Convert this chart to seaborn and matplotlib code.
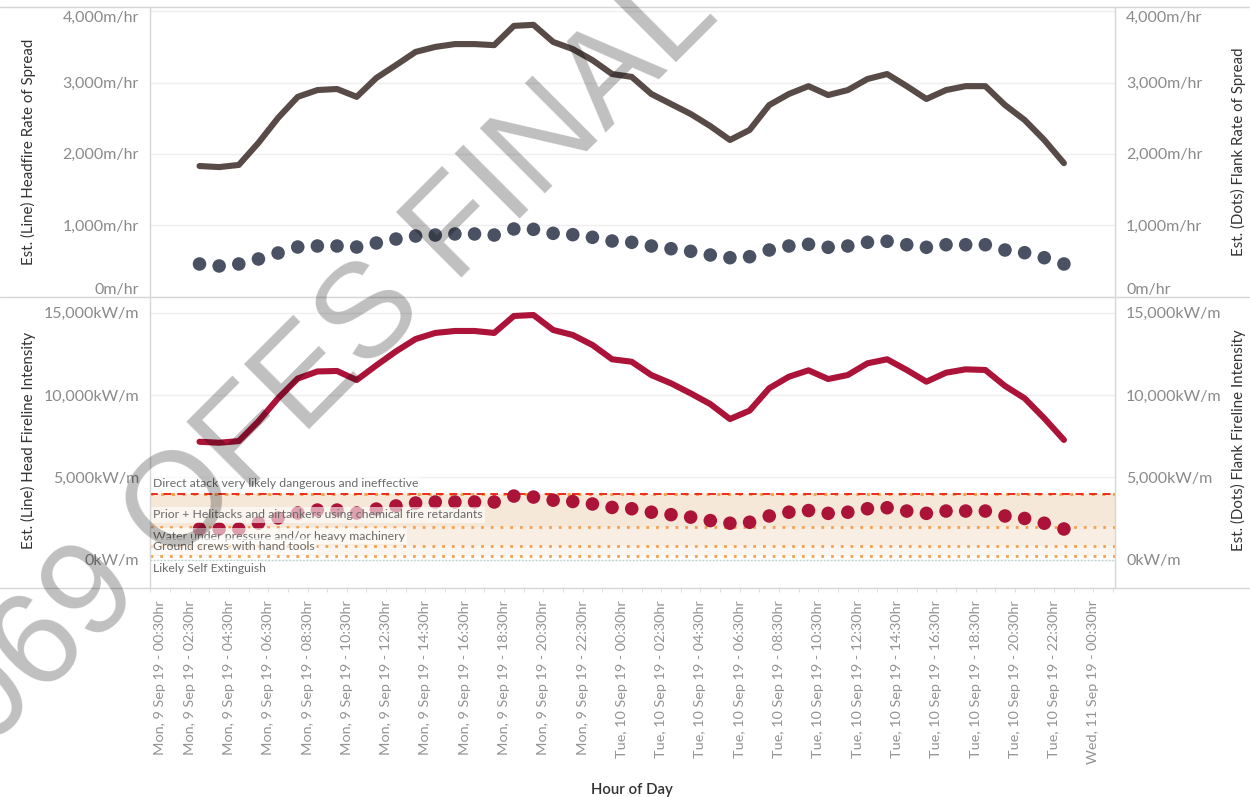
import numpy as np
import pandas as pd
import seaborn as sns
import matplotlib
matplotlib.use('Agg')
import matplotlib.pyplot as plt
from matplotlib.lines import Line2D
from matplotlib.transforms import ScaledTranslation

## hourly estimates, Mon 9 Sep 19 03:00 -> Tue 10 Sep 19 23:00 (hours from Mon 00:00)
hours = list(range(3, 48))

head_ros = [1830, 1815, 1845, 2155, 2505, 2800, 2895, 2910, 2800, 3065,
            3245, 3430, 3500, 3540, 3540, 3525, 3795, 3810, 3570, 3470,
            3315, 3120, 3080, 2840, 2700, 2560, 2390, 2195, 2335, 2685,
            2840, 2950, 2825, 2895, 3050, 3120, 2950, 2770, 2895, 2950,
            2950, 2685, 2475, 2195, 1870]
flank_ros = [456, 428, 456, 526, 610, 694, 708, 708, 694, 750,
             806, 848, 862, 877, 877, 862, 947, 942, 886, 867,
             830, 778, 760, 708, 670, 634, 582, 544, 558, 652,
             708, 732, 690, 708, 760, 774, 726, 690, 726, 726,
             726, 652, 614, 544, 456]
head_int = [7160, 7100, 7200, 8400, 9800, 11000, 11430, 11460, 10910, 11800,
            12650, 13400, 13770, 13890, 13890, 13770, 14800, 14860, 13950, 13645,
            13040, 12170, 12020, 11210, 10710, 10100, 9450, 8540, 9050, 10410,
            11110, 11500, 10970, 11215, 11925, 12170, 11520, 10810, 11355, 11560,
            11520, 10550, 9800, 8585, 7270]
flank_int = [1860, 1860, 1860, 2220, 2530, 2830, 3010, 3010, 2830, 3070,
             3260, 3440, 3500, 3500, 3500, 3500, 3860, 3800, 3610, 3530,
             3380, 3170, 3090, 2880, 2730, 2580, 2370, 2210, 2270, 2650,
             2880, 2980, 2810, 2880, 3090, 3150, 2950, 2810, 2950, 2950,
             2950, 2650, 2500, 2210, 1860]

tick_days = ['Mon, 9 Sep 19'] * 12 + ['Tue, 10 Sep 19'] * 12 + ['Wed, 11 Sep 19']
tick_times = ['00:30', '02:30', '04:30', '06:30', '08:30', '10:30',
              '12:30', '14:30', '16:30', '18:30', '20:30', '22:30'] * 2 + ['00:30']
tick_labels = ['{0} - {1}hr'.format(d, t) for d, t in zip(tick_days, tick_times)]

ros_ticks = [0, 1000, 2000, 3000, 4000]
ros_labels = ['0m/hr', '1,000m/hr', '2,000m/hr', '3,000m/hr', '4,000m/hr']
int_ticks = [0, 5000, 10000, 15000]
int_labels = ['0kW/m', '5,000kW/m', '10,000kW/m', '15,000kW/m']

# fire-fighting thresholds (kW/m) and their notes
thresh_vals = [4000, 2000, 800, 200]
thresh_notes = ['Direct atack very likely dangerous and ineffective',
                'Prior + Helitacks and airtankers using chemical fire retardants',
                'Water under pressure and/or heavy machinery',
                'Ground crews with hand tools']
low_note = 'Likely Self Extinguish'

df = pd.DataFrame({'hour': hours, 'head_ros': head_ros, 'flank_ros': flank_ros,
                   'head_int': head_int, 'flank_int': flank_int})

################################################
sns.set_theme(style='white')
plt.rcParams['font.family'] = ['Lato', 'DejaVu Sans']

W, H = 1250, 797
fig = plt.figure(figsize=(12.5, 7.97), dpi=100)
L, R = 150 / W, 1115 / W
ax1 = fig.add_axes([L, 1 - 297 / H, R - L, (297 - 7) / H])
ax2 = fig.add_axes([L, 1 - 588 / H, R - L, (588 - 297) / H], sharex=ax1)

grey_txt = '#8a8a8a'
dark_txt = '#333333'

## top pane: rate of spread
sns.lineplot(data=df, x='hour', y='head_ros', ax=ax1, color='#584b47', lw=4.4,
             solid_capstyle='round', solid_joinstyle='round', zorder=3)
sns.scatterplot(data=df, x='hour', y='flank_ros', ax=ax1, color='#4a5162', s=95,
                edgecolor='none', linewidth=0, zorder=4)
ax1.set_ylim(-7, 4060)

## bottom pane: fireline intensity
band_cols = ['#f6e8d8', '#f8eee3', '#fbf5ef']
for lo, hi, c in zip(thresh_vals[1:], thresh_vals[:-1], band_cols):
    ax2.axhspan(lo, hi, color=c, lw=0, zorder=0)
ax2.axhline(thresh_vals[0], color='#f7a24f', ls=(0, (1, 2.5)), lw=2.2, zorder=1)
ax2.axhline(thresh_vals[0], color='#ee2a1b', ls=(0, (4, 3)), lw=1.4, zorder=1.1)
for v in thresh_vals[1:]:
    ax2.axhline(v, color='#f6a04d', ls=(0, (1, 2.5)), lw=2.0, zorder=1)
ax2.axhline(0, color='#b8cfd2', ls=(0, (1, 1.5)), lw=1.0, zorder=1)

sns.lineplot(data=df, x='hour', y='head_int', ax=ax2, color='#ac1339', lw=4.4,
             solid_capstyle='round', solid_joinstyle='round', zorder=3)
sns.scatterplot(data=df, x='hour', y='flank_int', ax=ax2, color='#ac1339', s=95,
                edgecolor='none', linewidth=0, zorder=4)
ax2.set_ylim(-1725, 15954)

note_y = [4650, 2710, 1434, 826]
for y, t in zip(note_y, thresh_notes):
    ax2.text(0.003, y, t, transform=ax2.get_yaxis_transform(), fontsize=8.8,
             color='#6b6b6b', va='center', ha='left', zorder=6,
             bbox=dict(facecolor='white', alpha=0.6, edgecolor='none', pad=1.5))
ax2.text(0.003, -520, low_note, transform=ax2.get_yaxis_transform(), fontsize=8.8,
         color='#6b6b6b', va='center', ha='left', zorder=6,
         bbox=dict(facecolor='white', alpha=0.6, edgecolor='none', pad=1.5))

## x axis
ax2.set_xlim(0.48, 49.6)
ax2.set_xticks(np.arange(0.5, 49, 2))
ax2.set_xticklabels(tick_labels, rotation=90, fontsize=10.4, color='#939393')
ax2.set_xticks(np.arange(0.5, 49.6, 1), minor=True)
ax2.tick_params(axis='x', which='both', bottom=True, length=3, width=0.8,
                color='#e0e0e0', pad=6)
ax1.tick_params(axis='x', labelbottom=False, bottom=False)
ax1.set_xlabel('')
ax2.set_xlabel('')
# first label sits inside the pane, like the edge label in the original
first = ax2.xaxis.get_major_ticks()[0].label1
first.set_transform(first.get_transform() + ScaledTranslation(0.1, 0, fig.dpi_scale_trans))

## y axes, both sides
for ax, ticks, labs in [(ax1, ros_ticks, ros_labels), (ax2, int_ticks, int_labels)]:
    ax.set_yticks(ticks)
    ax.set_yticklabels(labs, fontsize=11.5, color=grey_txt)
    ax.tick_params(axis='y', length=0, pad=8)
    ax.set_ylabel('')
    ax.grid(axis='y', color='#efefef', lw=1)
    ax.set_axisbelow(True)
    for s in ax.spines.values():
        s.set_visible(False)
    axr = ax.twinx()
    axr.set_ylim(ax.get_ylim())
    axr.set_yticks(ticks)
    axr.set_yticklabels(labs, fontsize=11.5, color=grey_txt)
    axr.tick_params(axis='y', length=0, pad=8)
    for s in axr.spines.values():
        s.set_visible(False)
    if ax is ax1:
        for a in (ax, axr):
            tk = a.yaxis.get_major_ticks()
            tk[-1].label1.set_va('top'); tk[-1].label2.set_va('top')
            tk[0].label1.set_va('bottom'); tk[0].label2.set_va('bottom')

## axis titles
fig.text(28 / W, 1 - 152 / H, 'Est. (Line) Headfire Rate of Spread', rotation=90,
         ha='center', va='center', fontsize=10.8, color=dark_txt)
fig.text(28 / W, 1 - 440 / H, 'Est. (Line) Head Fireline Intensity', rotation=90,
         ha='center', va='center', fontsize=10.8, color=dark_txt)
fig.text(1238 / W, 1 - 152 / H, 'Est. (Dots) Flank Rate of Spread', rotation=90,
         ha='center', va='center', fontsize=10.8, color=dark_txt)
fig.text(1238 / W, 1 - 440 / H, 'Est. (Dots) Flank Fireline Intensity', rotation=90,
         ha='center', va='center', fontsize=10.8, color=dark_txt)
fig.text(632 / W, 1 - 790 / H, 'Hour of Day', ha='center', va='center',
         fontsize=10.8, color=dark_txt, fontweight='semibold')

## pane borders
bc = '#d6d6d6'
for y in (7, 297, 588):
    fig.add_artist(Line2D([0, 1], [1 - y / H] * 2, color=bc, lw=1))
for x in (150, 1115):
    fig.add_artist(Line2D([x / W] * 2, [1 - 7 / H, 1 - 588 / H], color=bc, lw=1))

## watermark
fig.text(330 / W, 1 - 360 / H, '069 OFES FINAL', rotation=45, rotation_mode='anchor',
         ha='center', va='center', fontsize=96, color='black', alpha=0.25,
         family='Liberation Sans', zorder=10)

plt.savefig('out.png', dpi=100)
